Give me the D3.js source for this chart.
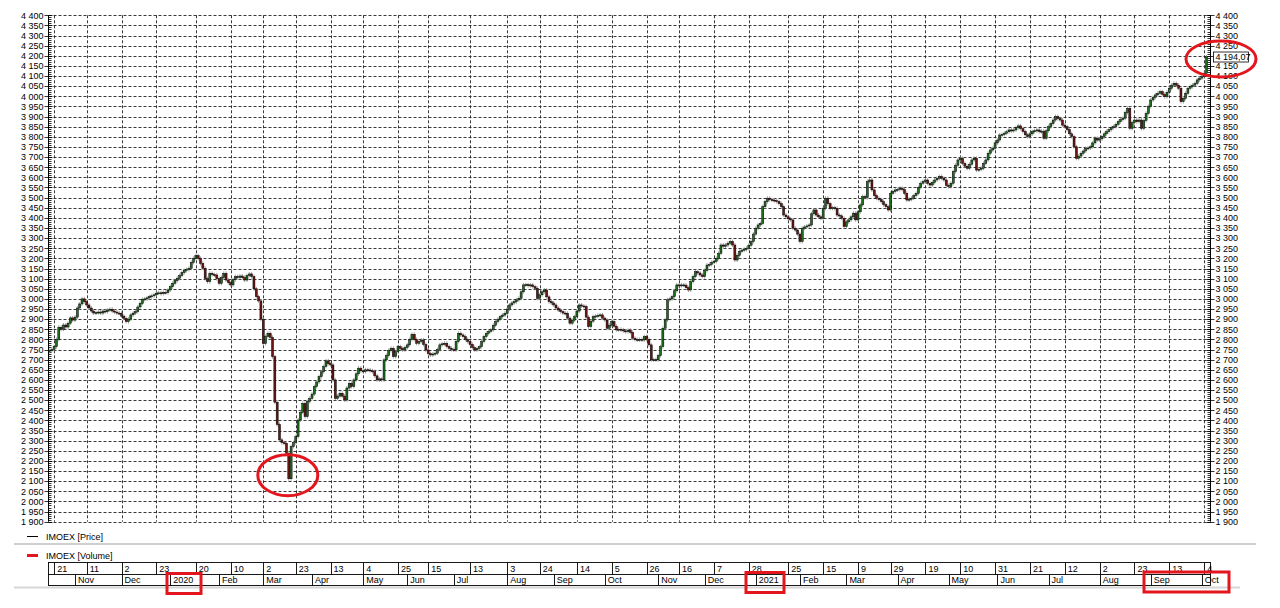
<!DOCTYPE html>
<html><head><meta charset="utf-8">
<script src="https://cdn.jsdelivr.net/npm/d3@7/dist/d3.min.js"></script>
<style>
html,body{margin:0;padding:0;background:#fff;}
svg text{font-family:"Liberation Sans",Arial,sans-serif;font-size:9px;fill:#000;}
</style></head>
<body>
<svg id="c" width="1280" height="608"></svg>
<script>
// ---- data ----
const closes = [
2745,2750,2764,2800,2860,2850,2871,2861,2880,2906,2895,2910,2955,2975,3000,2986,2970,2955,2940,2930,
2932,2935,2930,2940,2937,2945,2949,2940,2935,2930,2929,2915,2904,2888,2900,2921,2930,2937,2960,2978,
2998,3000,3005,3011,3015,3020,3028,3030,3026,3032,3031,3044,3060,3077,3090,3102,3115,3130,3140,3145,
3151,3180,3200,3213,3200,3175,3151,3100,3085,3126,3120,3118,3100,3077,3105,3126,3093,3080,3069,3095,
3110,3105,3113,3105,3093,3115,3123,3110,3050,3011,2990,2900,2780,2814,2830,2810,2715,2490,2380,2304,
2290,2287,2238,2112,2271,2290,2320,2402,2440,2484,2419,2493,2509,2530,2567,2590,2616,2640,2666,2694,
2680,2674,2600,2509,2520,2534,2520,2501,2560,2583,2567,2600,2630,2658,2645,2641,2650,2649,2645,2641,
2620,2600,2605,2600,2699,2720,2745,2756,2715,2740,2764,2755,2748,2760,2773,2800,2825,2800,2781,2790,
2797,2775,2748,2730,2723,2728,2732,2750,2773,2778,2781,2765,2756,2750,2748,2790,2830,2822,2814,2800,
2789,2775,2760,2748,2755,2764,2790,2814,2830,2840,2847,2870,2888,2900,2912,2920,2929,2950,2970,2980,
2986,2995,3003,3035,3069,3070,3065,3069,3060,3052,3003,3020,3035,3044,3010,2986,2980,2970,2955,2945,
2937,2930,2929,2905,2880,2895,2912,2940,2970,2965,2962,2910,2863,2890,2912,2915,2918,2921,2905,2896,
2855,2870,2888,2865,2847,2850,2847,2842,2838,2845,2835,2806,2800,2797,2800,2797,2814,2800,2773,2699,
2700,2699,2720,2764,2855,2896,2995,3000,3011,3040,3069,3065,3069,3068,3055,3044,3085,3110,3134,3128,
3118,3110,3140,3167,3170,3180,3185,3200,3225,3266,3260,3266,3275,3283,3266,3192,3215,3235,3241,3245,
3250,3265,3283,3320,3349,3365,3373,3455,3480,3497,3490,3488,3485,3480,3470,3455,3414,3405,3395,3390,
3349,3340,3320,3283,3349,3355,3360,3365,3420,3439,3414,3405,3398,3447,3497,3470,3447,3450,3447,3414,
3410,3398,3357,3380,3390,3405,3423,3390,3430,3464,3505,3500,3579,3587,3538,3510,3497,3490,3480,3465,
3455,3439,3521,3530,3538,3540,3546,3540,3521,3488,3492,3497,3510,3521,3550,3571,3580,3587,3570,3562,
3575,3587,3595,3604,3595,3587,3560,3554,3571,3628,3660,3686,3694,3669,3655,3645,3665,3686,3694,3636,
3640,3645,3669,3686,3719,3735,3743,3770,3784,3809,3812,3818,3825,3834,3830,3834,3845,3854,3840,3826,
3810,3801,3815,3826,3830,3834,3826,3828,3793,3830,3850,3865,3883,3900,3890,3883,3858,3850,3835,3815,
3801,3751,3694,3705,3719,3730,3743,3745,3751,3770,3793,3784,3790,3801,3815,3826,3835,3845,3850,3862,
3875,3885,3892,3920,3941,3842,3870,3883,3875,3883,3842,3880,3916,3950,3982,3995,4007,4015,4023,4010,
3998,4020,4040,4055,4064,4055,4040,3974,3990,4015,4040,4048,4055,4064,4081,4090,4097,4114,4194
];
const firstOpen = 2740;
const lastPrice = 4194.07;
const lastPriceLabel = "4 194,07";
const yTicks = d3.range(1900, 4401, 50);
const dayTickIdx = [2,16,31,46,63,78,92,106,121,135,150,163,181,197,211,227,242,257,271,286,301,318,333,348,362,377,392,407,422,437,452,467,482,497];
const dayTickLbl = ["21","11","2","23","20","10","2","23","13","4","25","15","13","3","24","14","5","26","16","7","28","25","15","9","29","19","10","31","21","12","2","23","13","4"];
const monthIdx = [11,31,52,73,92,113,135,154,174,197,217,239,262,282,304,323,343,365,387,408,430,452,474,496];
const monthLbl = ["Nov","Dec","2020","Feb","Mar","Apr","May","Jun","Jul","Aug","Sep","Oct","Nov","Dec","2021","Feb","Mar","Apr","May","Jun","Jul","Aug","Sep","Oct"];
const legendItems = ["IMOEX [Price]","IMOEX [Volume]"];

// ---- layout ----
const svg = d3.select("#c");
const L = 48.5, R = 1210.5, T = 15.3, B = 521.7;
const N = closes.length;
const x = d3.scaleLinear().domain([0, N-1]).range([49.5, 1206.5]);
const y = d3.scaleLinear().domain([1900, 4400]).range([B, T]);
const fmt = v => Math.floor(v/1000) + " " + String(v%1000).padStart(3,"0");
const red = "#e3161e";
const py = v => Math.round(y(v)) + 0.5;

// grid
const g = svg.append("g");
g.selectAll("line.h").data(yTicks).join("line")
  .attr("x1", L).attr("x2", R).attr("y1", py).attr("y2", py)
  .attr("stroke", "#222").attr("stroke-width", 0.9).attr("stroke-dasharray", "3,2");
g.selectAll("line.v").data(dayTickIdx).join("line")
  .attr("x1", d => Math.round(x(d))+0.5).attr("x2", d => Math.round(x(d))+0.5)
  .attr("y1", T).attr("y2", B)
  .attr("stroke", "#222").attr("stroke-width", 0.9).attr("stroke-dasharray", "3,2");

// axes: inward = direction into the plot, labels on the outside
const minor = d3.range(1900, 4401, 10);
function sideAxis(ax, inward, hide) {
  const a = svg.append("g");
  a.append("line").attr("x1", ax).attr("x2", ax).attr("y1", T).attr("y2", B).attr("stroke", "#000");
  a.selectAll("line.mi").data(minor).join("line")
    .attr("x1", ax).attr("x2", ax + inward*3).attr("y1", py).attr("y2", py)
    .attr("stroke", "#000").attr("stroke-width", 0.8);
  a.selectAll("line.ma").data(yTicks).join("line")
    .attr("x1", ax - inward*4).attr("x2", ax + inward*4).attr("y1", py).attr("y2", py)
    .attr("stroke", "#000").attr("stroke-width", 0.8);
  a.selectAll("text").data(yTicks.filter(d => !hide(d))).join("text")
    .attr("x", ax - inward*5)
    .attr("y", d => y(d) + 3.3)
    .attr("text-anchor", inward > 0 ? "end" : "start")
    .text(fmt);
}
sideAxis(L, 1, () => false);
// on the right, the last-price box hides the tick label beneath it
sideAxis(R, -1, d => Math.abs(y(d) - y(lastPrice)) < 7);

// candles
const cg = svg.append("g");
const cd = closes.map((c, i) => ({i, o: i ? closes[i-1] : firstOpen, c}));
cg.selectAll("line.w").data(cd).join("line")
  .attr("x1", d => x(d.i)).attr("x2", d => x(d.i))
  .attr("y1", d => y(Math.max(d.o, d.c)) - 2).attr("y2", d => y(Math.min(d.o, d.c)) + 2)
  .attr("stroke", "#8a8a8a").attr("stroke-width", 0.8);
cg.selectAll("rect").data(cd).join("rect")
  .attr("x", d => x(d.i) - 1).attr("width", 2)
  .attr("y", d => y(Math.max(d.o, d.c)))
  .attr("height", d => Math.max(1, y(Math.min(d.o, d.c)) - y(Math.max(d.o, d.c))))
  .attr("fill", d => d.c >= d.o ? "#1f6e1f" : "#6a1414")
  .attr("stroke", "#000").attr("stroke-width", 0.5);

// last price label
svg.append("rect").attr("x", 1213.5).attr("y", y(lastPrice) - 5).attr("width", 35).attr("height", 10)
  .attr("fill", "#fff").attr("stroke", "#000").attr("stroke-width", 0.8);
svg.append("text").attr("x", 1215.5).attr("y", y(lastPrice) + 3.3).text(lastPriceLabel);

// legend
const lg = svg.append("g");
lg.append("line").attr("x1", 27).attr("x2", 38).attr("y1", 536.5).attr("y2", 536.5).attr("stroke", "#000").attr("stroke-width", 1);
lg.append("text").attr("x", 46).attr("y", 539.5).text(legendItems[0]);
lg.append("line").attr("x1", 14).attr("x2", 1256).attr("y1", 544).attr("y2", 544).attr("stroke", "#cfcfcf").attr("stroke-width", 2);
lg.append("line").attr("x1", 27).attr("x2", 38).attr("y1", 555.5).attr("y2", 555.5).attr("stroke", red).attr("stroke-width", 3);
lg.append("text").attr("x", 46).attr("y", 558.5).text(legendItems[1]);

// date band
const db = svg.append("g");
const bT = 562.5, bM = 574.5, bB = 585.5;
db.append("rect").attr("x", L).attr("y", bT).attr("width", R - L).attr("height", bB - bT)
  .attr("fill", "none").attr("stroke", "#000").attr("stroke-width", 0.9);
db.append("line").attr("x1", L).attr("x2", R).attr("y1", bM).attr("y2", bM).attr("stroke", "#000").attr("stroke-width", 0.9);
db.selectAll("line.d").data(dayTickIdx).join("line")
  .attr("x1", d => Math.round(x(d))+0.5).attr("x2", d => Math.round(x(d))+0.5)
  .attr("y1", bT).attr("y2", bM).attr("stroke", "#000").attr("stroke-width", 0.9);
db.selectAll("text.d").data(dayTickIdx).join("text")
  .attr("x", d => x(d) + 3).attr("y", bM - 2.5).text((d, i) => dayTickLbl[i]);
db.selectAll("line.m").data(monthIdx).join("line")
  .attr("x1", d => Math.round(x(d))+0.5).attr("x2", d => Math.round(x(d))+0.5)
  .attr("y1", bM).attr("y2", bB).attr("stroke", "#000").attr("stroke-width", 0.9);
db.selectAll("text.m").data(monthIdx).join("text")
  .attr("x", d => x(d) + 3).attr("y", bB - 2.5).text((d, i) => monthLbl[i]);
svg.append("line").attr("x1", 14).attr("x2", 1240).attr("y1", 587.5).attr("y2", 587.5).attr("stroke", "#d6d6d6").attr("stroke-width", 2);

// annotations
const an = svg.append("g").attr("fill", "none").attr("stroke", red).attr("stroke-width", 3);
an.append("ellipse").attr("cx", x(103) - 1).attr("cy", y(2120) - 2).attr("rx", 30).attr("ry", 20.5);
an.append("ellipse").attr("cx", 1221).attr("cy", 59).attr("rx", 35).attr("ry", 18);
an.append("rect").attr("x", 167).attr("y", 573.5).attr("width", 34).attr("height", 20);
an.append("rect").attr("x", 746).attr("y", 572.5).attr("width", 38).attr("height", 20);
an.append("rect").attr("x", 1144).attr("y", 572).attr("width", 85).attr("height", 20);
</script>
</body></html>
